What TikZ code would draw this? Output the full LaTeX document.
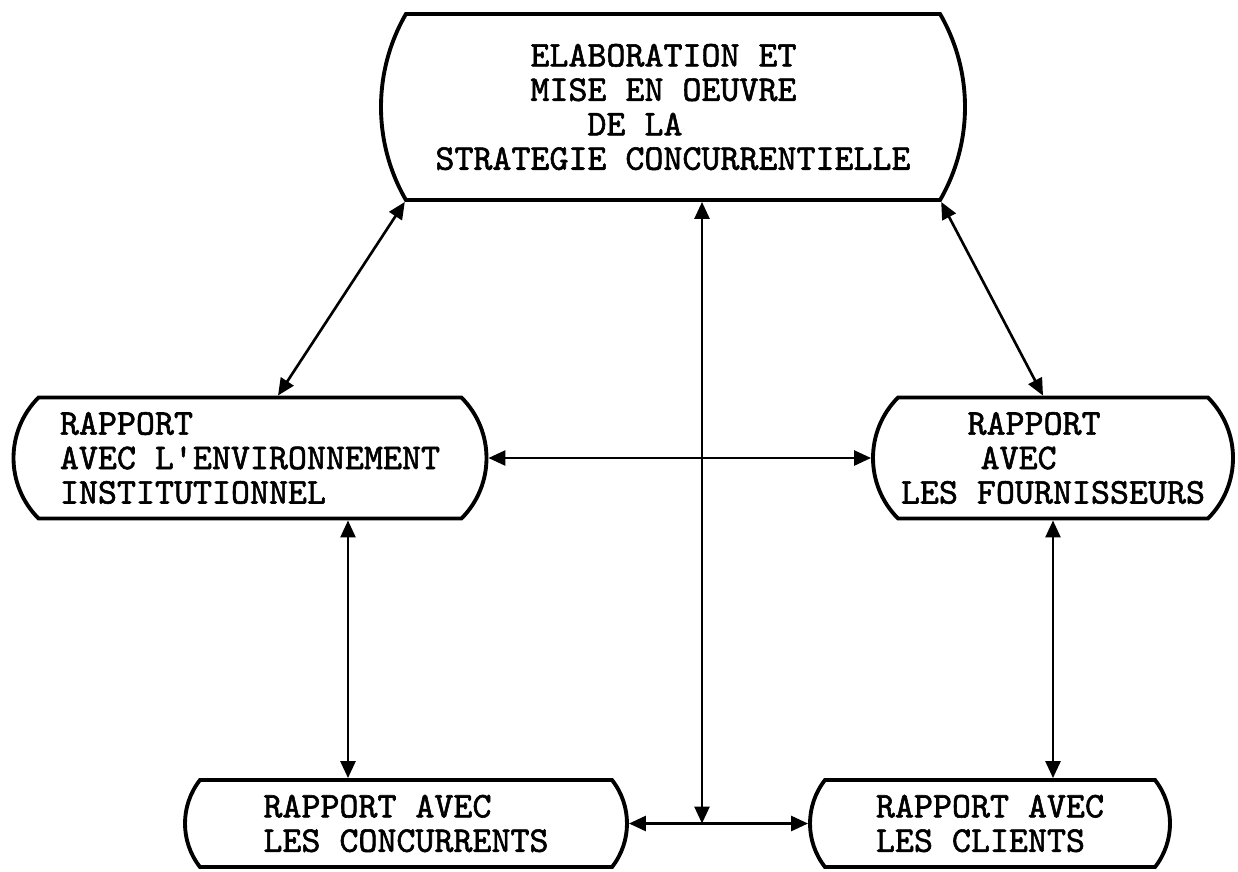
\documentclass[tikz,border=0pt]{standalone}
\usepackage{fontspec}
\setmonofont{Latin Modern Mono}[FakeBold=1.6]
\usetikzlibrary{shapes.misc,arrows.meta}

\begin{document}
\begin{tikzpicture}[
    rapport/.style={rounded rectangle, draw, line width=1.1pt,
                    inner sep=0pt, align=left,
                    font=\ttfamily\fontsize{10.3}{9.8}\selectfont},
    liaison/.style={{Triangle[length=1.7mm,width=1.5mm]}-{Triangle[length=1.7mm,width=1.5mm]},
                    line width=0.75pt}
  ]
    \useasboundingbox (0,0) rectangle (12.38,-8.71);

    % Strategie

    \node (stratbox) [rapport, minimum width=5.84cm, minimum height=1.86cm,
                      rounded rectangle arc length=60]
          at (6.73,-1.07)
          {\phantom{XXXXX}ELABORATION ET \\ \phantom{XXXXX}MISE EN OEUVRE \\
           \phantom{XXXXXXXX}DE LA \\ STRATEGIE CONCURRENTIELLE};

    % Environnement et fournisseurs

    \node (envbox) [rapport, minimum width=4.73cm, minimum height=1.21cm,
                    rounded rectangle arc length=90]
          at (2.5,-4.58)
          {RAPPORT \\ AVEC L'ENVIRONNEMENT \\ INSTITUTIONNEL};
    \node (fourbox) [rapport, minimum width=3.6cm, minimum height=1.21cm,
                     rounded rectangle arc length=90]
          at (10.53,-4.58)
          {\hspace{1.84em}RAPPORT \\ \hspace{2.2em}AVEC \\ LES FOURNISSEURS};

    % Concurrents et clients

    \node (concbox) [rapport, minimum width=4.42cm, minimum height=0.87cm,
                     rounded rectangle arc length=76]
          at (4.06,-8.235)
          {RAPPORT AVEC \\ LES CONCURRENTS};
    \node (clibox) [rapport, minimum width=3.6cm, minimum height=0.87cm,
                    rounded rectangle arc length=76]
          at (9.9,-8.235)
          {RAPPORT AVEC \\ LES CLIENTS};

    % Liaisons

    \coordinate (envbas) at ([xshift=0.98cm]envbox.south);
    \coordinate (carrefour) at (7.02,-8.235);
    \draw[liaison] (stratbox.south west) -- ([xshift=0.28cm]envbox.north);
    \draw[liaison] (stratbox.south east) -- ([xshift=-0.1cm]fourbox.north);
    \draw[liaison] (envbox.east) -- (fourbox.west);
    \draw[liaison] (envbas) -- (envbas |- concbox.north);
    \draw[liaison] (fourbox.south) -- (fourbox.south |- clibox.north);
    \draw[liaison] (concbox.east) -- (clibox.west);
    \draw[liaison] (carrefour |- stratbox.south) -- (carrefour);
\end{tikzpicture}
\end{document}
